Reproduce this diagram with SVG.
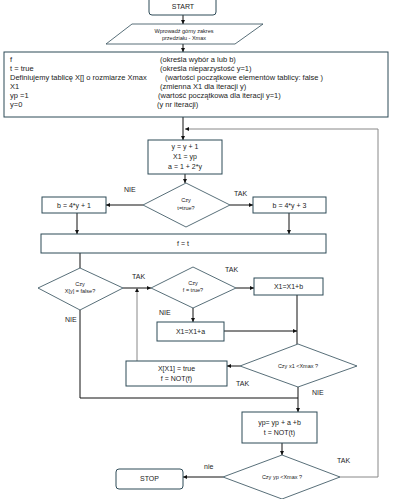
<svg xmlns="http://www.w3.org/2000/svg" width="400" height="499" viewBox="0 0 400 499">
<defs>
<marker id="ah" viewBox="0 0 10 10" refX="10" refY="5" markerWidth="4" markerHeight="4" orient="auto" markerUnits="userSpaceOnUse">
<path d="M0,0 L10,5 L0,10 z" fill="#111"/>
</marker>
</defs>
<style>
.box{fill:#fff;stroke:#2d4a57;stroke-width:1}
.dia{fill:#fff;stroke:#2d4a57;stroke-width:0.8}
.c{fill:none;stroke:#111;stroke-width:1}
.g{fill:none;stroke:#888;stroke-width:1}
text{font-family:"Liberation Sans",Arial,sans-serif;font-size:7px;fill:#222}
.m{text-anchor:middle}
.s{font-size:5.5px}
.l{font-size:7.5px}
</style>
<rect width="400" height="499" fill="#fff"/>
<g id="connectors">
<path class="c" d="M183,15 L183,24" marker-end="url(#ah)"/>
<path class="c" d="M183,44 L183,52" marker-end="url(#ah)"/>
<path class="c" d="M183,117 L183,140" marker-end="url(#ah)"/>
<path class="g" d="M340,477 L378,477 L378,129 L185,129" marker-end="url(#ah)"/>
<path class="c" d="M185,174 L185,183" marker-end="url(#ah)"/>
<path class="c" d="M143,205 L106,205" marker-end="url(#ah)"/>
<path class="c" d="M230,205 L253,205" marker-end="url(#ah)"/>
<path class="c" d="M77,213 L77,234" marker-end="url(#ah)"/>
<path class="c" d="M289,213 L289,234" marker-end="url(#ah)"/>
<path class="c" d="M80,253 L80,268"/>
<path class="c" d="M123,288 L151,288" marker-end="url(#ah)"/>
<path class="g" d="M137,361 L137,288" marker-end="url(#ah)"/>
<path class="c" d="M236,288 L254,288" marker-end="url(#ah)"/>
<path class="c" d="M193,308 L193,322" marker-end="url(#ah)"/>
<path class="c" d="M297,295 L297,344"/>
<path class="c" d="M224,331 L297,331" marker-end="url(#ah)"/>
<path class="c" d="M240,366 L227,366" marker-end="url(#ah)"/>
<path class="c" d="M80,310 L80,398 L298,398"/>
<path class="c" d="M298,387 L298,412" marker-end="url(#ah)"/>
<path class="c" d="M282,443 L282,455" marker-end="url(#ah)"/>
<path class="c" d="M223,477 L183,477" marker-end="url(#ah)"/>
</g>
<g id="start">
<rect class="box" x="149" y="-6" width="67" height="21" rx="3"/>
<text class="m" x="183" y="9">START</text>
</g>
<g id="input">
<polygon class="dia" points="132,24 263,24 235,44 106,44"/>
<text class="m s" x="184" y="33">Wprowadź górny zakres</text>
<text class="m s" x="184" y="40">przedziału - Xmax</text>
</g>
<g id="init">
<rect class="box" x="4" y="52" width="384" height="65"/>
<text class="l" x="10" y="62">f</text>
<text class="l" x="160" y="62">(określa wybór a lub b)</text>
<text class="l" x="10" y="71">t = true</text>
<text class="l" x="160" y="71">(określa  nieparzystość y=1)</text>
<text class="l" x="10" y="80">Definiujemy tablicę X[] o rozmiarze Xmax</text>
<text class="l" x="165" y="80">(wartości początkowe elementów tablicy: false )</text>
<text class="l" x="10" y="89">X1</text>
<text class="l" x="160" y="89">(zmienna X1 dla iteracji y)</text>
<text class="l" x="10" y="98">yp =1</text>
<text class="l" x="158" y="98">(wartość początkowa dla iteracji y=1)</text>
<text class="l" x="10" y="107">y=0</text>
<text class="l" x="157" y="107">(y nr iteracji)</text>
</g>
<g id="step">
<rect class="box" x="148" y="140" width="74" height="34"/>
<text class="m" x="185" y="149">y = y + 1</text>
<text class="m" x="185" y="159">X1 = yp</text>
<text class="m" x="185" y="169">a = 1 + 2*y</text>
</g>
<g id="dec-t">
<polygon class="dia" points="186,183 230,205 186,227 143,205"/>
<text class="m s" x="186" y="202">Czy</text>
<text class="m s" x="186" y="210">t=true?</text>
<text x="124" y="192">NIE</text>
<text x="234" y="196">TAK</text>
</g>
<g id="b1">
<rect class="box" x="42" y="197" width="64" height="16"/>
<text class="m" x="74" y="207.5">b = 4*y + 1</text>
</g>
<g id="b3">
<rect class="box" x="253" y="197" width="73" height="16"/>
<text class="m" x="289.5" y="207.5">b = 4*y + 3</text>
</g>
<g id="ft">
<rect class="box" x="41" y="234" width="285" height="19"/>
<text class="m" x="183" y="246">f = t</text>
</g>
<g id="dec-x">
<polygon class="dia" points="80,268 123,288 80,310 38,288"/>
<text class="m s" x="80" y="286">Czy</text>
<text class="m s" x="80" y="293">X[y] = false?</text>
<text x="132" y="279">TAK</text>
<text x="65" y="322">NIE</text>
</g>
<g id="dec-f">
<polygon class="dia" points="193,267 236,288 193,308 151,288"/>
<text class="m s" x="193" y="285">Czy</text>
<text class="m s" x="193" y="292">f = true?</text>
<text x="225" y="272">TAK</text>
<text x="159" y="315">NIE</text>
</g>
<g id="x1b">
<rect class="box" x="254" y="278" width="69" height="17"/>
<text class="m" x="288.5" y="289">X1=X1+b</text>
</g>
<g id="x1a">
<rect class="box" x="157" y="322" width="67" height="19"/>
<text class="m" x="190.5" y="334">X1=X1+a</text>
</g>
<g id="dec-x1">
<polygon class="dia" points="298,344 357,366 298,387 240,366"/>
<text class="m s" x="298" y="368">Czy x1 &lt;Xmax ?</text>
<text x="236" y="386">TAK</text>
<text x="312" y="395">NIE</text>
</g>
<g id="mark">
<rect class="box" x="126" y="361" width="101" height="25"/>
<text class="m" x="176.5" y="371">X[X1] = true</text>
<text class="m" x="176.5" y="381">f = NOT(f)</text>
</g>
<g id="yp">
<rect class="box" x="242" y="412" width="75" height="31"/>
<text class="m" x="279.5" y="425">yp= yp + a +b</text>
<text class="m" x="279.5" y="435">t = NOT(t)</text>
</g>
<g id="dec-yp">
<polygon class="dia" points="282,455 340,477 282,499 223,477"/>
<text class="m s" x="282" y="479">Czy yp &lt;Xmax ?</text>
<text x="204" y="469">nie</text>
<text x="337" y="463">TAK</text>
</g>
<g id="stop">
<rect class="box" x="116" y="469" width="67" height="20" rx="3"/>
<text class="m" x="149.5" y="481">STOP</text>
</g>
</svg>
